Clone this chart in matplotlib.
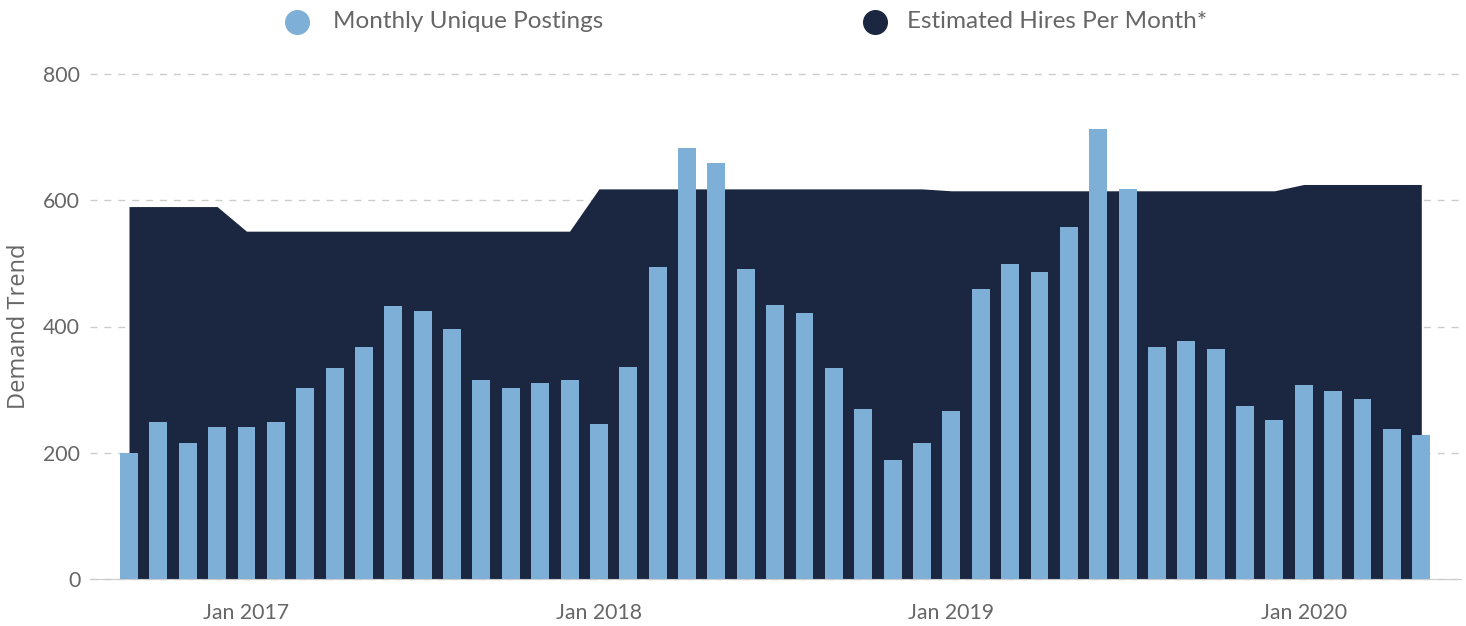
import matplotlib
matplotlib.use("Agg")
import matplotlib.pyplot as plt
from matplotlib.lines import Line2D
import numpy as np
import pandas as pd

months = pd.date_range("2016-09-01", periods=45, freq="MS")
postings = [200, 249, 215, 241, 241, 249, 303, 334, 368, 432, 425, 396,
            315, 303, 310, 315, 246, 336, 494, 683, 659, 491, 434, 421,
            334, 269, 189, 215, 266, 459, 499, 486, 558, 713, 618, 368,
            377, 364, 274, 252, 307, 298, 285, 238, 228]
hires = [590, 590, 590, 590,
         551, 551, 551, 551, 551, 551, 551, 551, 551, 551, 551, 551,
         618, 618, 618, 618, 618, 618, 618, 618, 618, 618, 618, 618,
         615, 615, 615, 615, 615, 615, 615, 615, 615, 615, 615, 615,
         625, 625, 625, 625, 625]
yticks = [0, 200, 400, 600, 800]
series_names = ["Monthly Unique Postings", "Estimated Hires Per Month*"]

BAR = "#7eafd6"
AREA = "#1b2641"
TXT = "#666666"

plt.rcParams["font.family"] = ["Lato", "DejaVu Sans"]

fig = plt.figure(figsize=(14.66, 6.26), dpi=100)
ax = fig.add_axes([90/1466, 1 - 579/626, (1461-90)/1466, (579-74)/626])

x = np.arange(len(months))
ax.fill_between(x, 0, hires, color=AREA, linewidth=0, zorder=2)
ax.bar(x, postings, width=0.61, color=BAR, zorder=3, linewidth=0)

ax.set_xlim((90-129)/29.37, (1461-129)/29.37)
ax.set_ylim(0, 800)
ax.set_yticks(yticks)
ax.set_yticklabels([str(v) for v in yticks])
ax.yaxis.grid(True, linestyle=(0, (5, 5)), color="#cccccc", linewidth=1, zorder=0)
for t in ax.yaxis.get_gridlines():
    t.set_clip_on(False)

tick_idx = [i for i, m in enumerate(months) if m.month == 1]
ax.set_xticks(tick_idx)
ax.set_xticklabels([months[i].strftime("Jan %Y") for i in tick_idx])

ax.tick_params(axis="both", length=0, labelsize=15.3, colors=TXT)
ax.tick_params(axis="y", pad=7)
ax.tick_params(axis="x", pad=17)
for s in ["top", "right", "left"]:
    ax.spines[s].set_visible(False)
ax.spines["bottom"].set_color("#cccccc")
ax.spines["bottom"].set_zorder(4)
ax.set_axisbelow(True)

ax.set_ylabel("Demand Trend", fontsize=17, color=TXT, family=["Open Sans", "DejaVu Sans"], labelpad=9)

# legend
legend_items = [(297, 333, BAR, series_names[0]), (875, 907, AREA, series_names[1])]
for cx, tx, col, name in legend_items:
    fig.add_artist(Line2D([cx/1466], [1 - 22/626], marker="o", markersize=17,
                          color=col, linestyle="none", transform=fig.transFigure))
    fig.text(tx/1466, 1 - 22/626, name, fontsize=17.5, color=TXT, va="center", ha="left")

fig.savefig("out.png", dpi=100)
